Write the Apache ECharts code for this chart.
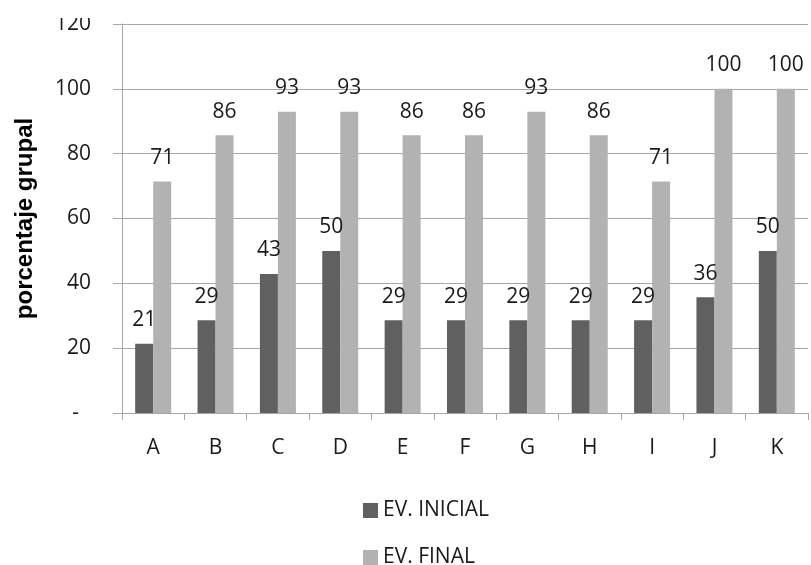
<!DOCTYPE html>
<html>
<head>
<meta charset="utf-8">
<script src="https://cdn.jsdelivr.net/npm/echarts@6/dist/echarts.min.js"></script>
<style>html,body{margin:0;padding:0;background:#fff}#c{width:811px;height:565px}</style>
</head>
<body>
<div id="c"></div>
<script>
var categories = ['A','B','C','D','E','F','G','H','I','J','K'];
var evInicial = [21.4, 28.6, 42.9, 50, 28.6, 28.6, 28.6, 28.6, 28.6, 35.7, 50];
var evFinal = [71.4, 85.7, 92.9, 92.9, 85.7, 85.7, 92.9, 85.7, 71.4, 100, 100];
var yTicks = [0, 20, 40, 60, 80, 100, 120];
var seriesNames = ['EV. INICIAL', 'EV. FINAL'];

var FONT = 'Open Sans';
var FS = 21;
var chart = echarts.init(document.getElementById('c'));
var labelCfg = {
  show: true, position: 'top', distance: 13,
  fontFamily: FONT, fontSize: FS, color: '#1a1a1a',
  formatter: function (p) { return Math.round(p.value); }
};
function legendAt(name, top) {
  return {
    orient: 'vertical', left: 358, top: top, itemWidth: 15, itemHeight: 15, itemGap: 0,
    icon: 'rect',
    textStyle: { fontFamily: FONT, fontSize: FS, color: '#1a1a1a', padding: [0, 0, 0, 0] },
    data: [name]
  };
}
chart.setOption({
  animation: false,
  backgroundColor: '#fff',
  grid: { left: 122, right: 3, top: 24, bottom: 152, outerBoundsMode: 'none', containLabel: false },
  legend: [legendAt(seriesNames[0], 495), legendAt(seriesNames[1], 542)],
  xAxis: {
    type: 'category', data: categories,
    axisLine: { lineStyle: { color: '#a6a6a6', width: 1 } },
    axisTick: { show: true, length: 7, lineStyle: { color: '#a6a6a6' } },
    axisLabel: { margin: 25, fontFamily: FONT, fontSize: FS, color: '#1a1a1a' },
    splitLine: { show: false }
  },
  yAxis: {
    type: 'value', min: yTicks[0], max: yTicks[yTicks.length - 1], interval: yTicks[1] - yTicks[0],
    name: 'porcentaje grupal', nameLocation: 'middle', nameGap: 85,
    nameTextStyle: { fontFamily: 'Liberation Sans', fontWeight: 'bold', fontSize: 24, color: '#000' },
    axisLine: { show: true, lineStyle: { color: '#a6a6a6', width: 1 } },
    axisTick: { show: true, length: 9, lineStyle: { color: '#a6a6a6' } },
    axisLabel: {
      margin: 31, fontFamily: FONT, fontSize: FS, color: '#1a1a1a',
      formatter: function (v) { return v === 0 ? '{d|-}' : String(v); },
      rich: { d: { fontFamily: FONT, fontSize: FS, color: '#1a1a1a', padding: [0, 12, 0, 0] } }
    },
    splitLine: { show: true, lineStyle: { color: '#a6a6a6', width: 1 } }
  },
  series: [
    { name: seriesNames[0], type: 'bar', data: evInicial, barWidth: 18, barGap: '0%',
      itemStyle: { color: '#606060' }, label: labelCfg },
    { name: seriesNames[1], type: 'bar', data: evFinal, barWidth: 18,
      itemStyle: { color: '#b2b2b2' }, label: labelCfg }
  ],
  graphic: [
    { type: 'rect', left: 0, top: 0, shape: { width: 110, height: 18 }, style: { fill: '#fff' }, z: 100 }
  ]
});
</script>
</body>
</html>
